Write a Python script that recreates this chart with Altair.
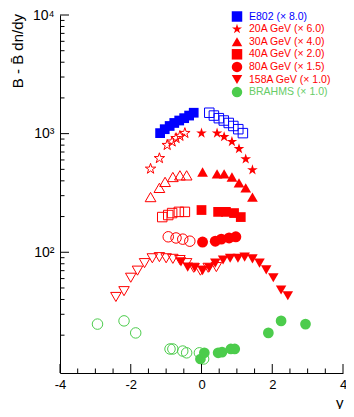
import altair as alt
import pandas as pd

# ---------------- data (rapidity, B - Bbar dN/dy, scaled) ----------------
E802_F_RAP = [-1.17, -1.04, -0.90, -0.77, -0.63, -0.49, -0.35, -0.22]
E802_F_VAL = [1010, 1090, 1160, 1230, 1290, 1350, 1420, 1500]
E802_O_RAP = [0.22, 0.35, 0.49, 0.63, 0.77, 0.90, 1.04, 1.17]
E802_O_VAL = [1500, 1420, 1350, 1290, 1230, 1160, 1090, 1010]

A20_F_RAP = [0.0, 0.44, 0.64, 0.86, 1.06, 1.25, 1.44]
A20_F_VAL = [1010, 1010, 940, 855, 745, 610, 495]
A20_O_RAP = [-0.47, -0.61, -0.72, -0.83, -0.97, -1.19, -1.44]
A20_O_VAL = [1010, 955, 915, 855, 800, 620, 505]

A30_F_RAP = [0.03, 0.44, 0.64, 0.86, 1.06, 1.25, 1.44]
A30_F_VAL = [475, 457, 457, 431, 384, 349, 292]
A30_O_RAP = [-0.42, -0.61, -0.81, -1.03, -1.19, -1.44]
A30_O_VAL = [445, 445, 431, 392, 349, 292]

A40_F_RAP = [0.0, 0.47, 0.69, 0.92, 1.11]
A40_F_VAL = [227, 219, 219, 214, 198]
A40_O_RAP = [-0.47, -0.64, -0.83, -0.94, -1.11]
A40_O_VAL = [219, 219, 214, 206, 198]

A80_F_RAP = [0.03, 0.39, 0.56, 0.78, 0.97]
A80_F_VAL = [122, 124, 129, 132, 135]
A80_O_RAP = [-0.94, -0.72, -0.53, -0.33]
A80_O_VAL = [135, 132, 129, 124]

A158_F_RAP = [-0.58, -0.39, -0.19, 0.03, 0.22, 0.39, 0.61, 0.81, 1.03, 1.22, 1.44, 1.64, 1.83, 2.03, 2.25, 2.44]
A158_F_VAL = [83, 75, 74, 70, 74, 81, 86, 89, 89, 91, 88, 81, 71, 61, 48, 43]
A158_O_RAP = [-2.42, -2.19, -2.0, -1.81, -1.61, -1.39, -1.19, -1.0, -0.81, -0.61, -0.42, -0.22, -0.03, 0.19, 0.42]
A158_O_VAL = [42, 47, 61, 70, 81, 89, 91, 89, 88, 86, 81, 74, 70, 74, 75]

BR_F_RAP = [-0.03, 0.08, 0.47, 0.58, 0.83, 0.94, 1.89, 2.25, 2.94]
BR_F_VAL = [12.6, 14.2, 14.2, 14.4, 15.3, 15.3, 20.9, 26.4, 24.8]
BR_O_RAP = [-2.94, -2.19, -1.86, -0.89, -0.81, -0.53, -0.42, -0.06, 0.06]
BR_O_VAL = [24.8, 26.4, 20.9, 15.3, 15.3, 14.7, 14.2, 14.2, 12.6]

LEGEND_LABELS = ["E802 (\u00d7 8.0)", "20A GeV (\u00d7 6.0)", "30A GeV (\u00d7 4.0)",
                 "40A GeV (\u00d7 2.0)", "80A GeV (\u00d7 1.5)", "158A GeV (\u00d7 1.0)",
                 "BRAHMS (\u00d7 1.0)"]

X_MAJOR = [-4, -2, 0, 2, 4]
X_MINOR = [-3.5, -3, -2.5, -1.5, -1, -0.5, 0.5, 1, 1.5, 2.5, 3, 3.5]
Y_MAJOR = [100, 1000, 10000]
Y_MINOR = [20, 30, 40, 50, 60, 70, 80, 90,
           200, 300, 400, 500, 600, 700, 800, 900,
           2000, 3000, 4000, 5000, 6000, 7000, 8000, 9000]

# ---------------- styling ----------------
W, H = 283, 358
FONT = "Liberation Sans"
BLUE = "#0000ff"
RED = "#ff0000"
GREEN = "#4ccc4c"
GREEN_T = "#66cc66"
STAR = ("M0,-1L0.225,-0.309L0.951,-0.309L0.363,0.118L0.588,0.809L0,0.382"
        "L-0.588,0.809L-0.363,0.118L-0.951,-0.309L-0.225,-0.309Z")

xs = alt.Scale(domain=[-4, 4], nice=False, zero=False)
ys = alt.Scale(type="log", domain=[9.6, 10000], nice=False)

x_axis = alt.Axis(values=X_MAJOR, ticks=False, grid=False, domain=True,
                  domainColor="black", domainWidth=1,
                  labelFont=FONT, labelFontSize=13, labelColor="black",
                  labelPadding=5, labelExpr="'' + datum.value", labelFlush=False,
                  title="y", titleFont=FONT, titleFontSize=15,
                  titleFontWeight="normal", titleColor="black",
                  titleAnchor="end", titlePadding=4)
y_axis = alt.Axis(values=Y_MAJOR, ticks=False, grid=False, domain=True,
                  domainColor="black", domainWidth=1,
                  labelFont=FONT, labelFontSize=14, labelColor="black",
                  labelPadding=6, labelFlush=False,
                  labelExpr="datum.value == 100 ? '10\u00b2' : datum.value == 1000 ? '10\u00b3' : '10\u2074'",
                  title=None)


def pts(rap, val, shape, color, filled, size):
    df = pd.DataFrame({"rap": rap, "val": val})
    return alt.Chart(df).mark_point(
        shape=shape, filled=filled, size=size, color=color,
        strokeWidth=1, opacity=1, fillOpacity=1
    ).encode(
        x=alt.X("rap:Q", scale=xs, axis=x_axis),
        y=alt.Y("val:Q", scale=ys, axis=y_axis),
    )


layers = [
    pts(A158_O_RAP, A158_O_VAL, "triangle-down", RED, False, 110),
    pts(A158_F_RAP, A158_F_VAL, "triangle-down", RED, True, 110),
    pts(BR_O_RAP, BR_O_VAL, "circle", GREEN, False, 110),
    pts(BR_F_RAP, BR_F_VAL, "circle", GREEN, True, 115),
    pts(A80_O_RAP, A80_O_VAL, "circle", RED, False, 110),
    pts(A80_F_RAP, A80_F_VAL, "circle", RED, True, 120),
    pts(A40_O_RAP, A40_O_VAL, "square", RED, False, 90),
    pts(A40_F_RAP, A40_F_VAL, "square", RED, True, 95),
    pts(A30_O_RAP, A30_O_VAL, "triangle-up", RED, False, 115),
    pts(A30_F_RAP, A30_F_VAL, "triangle-up", RED, True, 115),
    pts(A20_O_RAP, A20_O_VAL, STAR, RED, False, 120),
    pts(A20_F_RAP, A20_F_VAL, STAR, RED, True, 125),
    pts(E802_O_RAP, E802_O_VAL, "square", BLUE, False, 90),
    pts(E802_F_RAP, E802_F_VAL, "square", BLUE, True, 95),
]

# inward ticks
def xticks(vals, length):
    df = pd.DataFrame({"t": vals})
    return alt.Chart(df).mark_rule(color="black", strokeWidth=1).encode(
        x=alt.X("t:Q", scale=xs, axis=x_axis),
        y=alt.value(H), y2=alt.value(H - length))


def yticks(vals, length):
    df = pd.DataFrame({"t": vals})
    return alt.Chart(df).mark_rule(color="black", strokeWidth=1).encode(
        y=alt.Y("t:Q", scale=ys, axis=y_axis),
        x=alt.value(0), x2=alt.value(length))


layers += [xticks(X_MAJOR, 9), xticks(X_MINOR, 4.5),
           yticks(Y_MAJOR, 9), yticks(Y_MINOR, 4.5)]

# legend
leg = pd.DataFrame({
    "label": LEGEND_LABELS,
    "i": list(range(len(LEGEND_LABELS))),
    "shp": ["square", STAR, "triangle-up", "square", "circle", "triangle-down", "circle"],
    "col": [BLUE, RED, RED, RED, RED, RED, GREEN],
    "tcol": [BLUE, RED, RED, RED, RED, RED, GREEN_T],
})
leg_base = alt.Chart(leg).transform_calculate(py="1.5 + datum.i * 12.6")
layers.append(leg_base.mark_point(filled=True, size=110, opacity=1, fillOpacity=1).encode(
    x=alt.value(177),
    y=alt.Y("py:Q", scale=None, axis=None),
    shape=alt.Shape("shp:N", scale=None, legend=None),
    color=alt.Color("col:N", scale=None, legend=None),
))
layers.append(leg_base.mark_text(align="left", baseline="middle", font=FONT, fontSize=10.5).encode(
    x=alt.value(189),
    y=alt.Y("py:Q", scale=None, axis=None),
    text="label:N",
    color=alt.Color("tcol:N", scale=None, legend=None),
))

# y-axis title
ytitle = pd.DataFrame({"t": ["B - B\u0304 dn/dy"]})
layers.append(alt.Chart(ytitle).mark_text(
    angle=270, align="right", baseline="middle", font=FONT, fontSize=15, color="black"
).encode(x=alt.value(-42), y=alt.value(-1), text="t:N"))

chart = alt.layer(*layers).properties(
    width=W, height=H,
    autosize=alt.AutoSizeParams(type="none"),
    padding={"left": 52, "top": 7, "right": 3, "bottom": 36},
).configure_view(stroke=None)

chart.save("out.html", embed_options={"renderer": "svg", "actions": False})
